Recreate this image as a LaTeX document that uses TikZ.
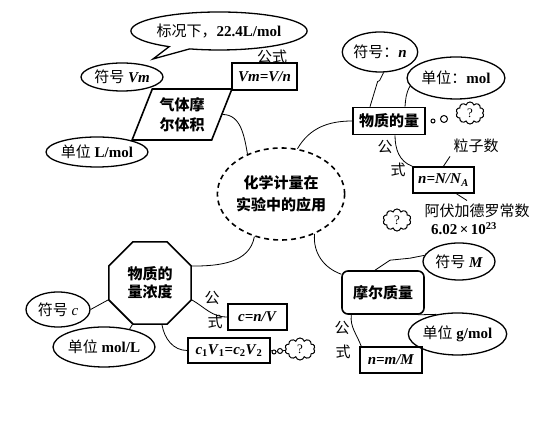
\documentclass[tikz,border=0pt]{standalone}
\usepackage{fontspec}
\setmainfont{Liberation Serif}
\newfontfamily\cjk{Noto Sans CJK SC}
\usetikzlibrary{positioning, shapes.geometric, shapes.symbols, shapes.callouts}
\newcommand{\zh}[1]{{\cjk #1}}

\begin{document}
\begin{tikzpicture}[x=1pt, y=1pt,
    every node/.style={font=\fontsize{15}{18}\selectfont},
    bubble/.style={ellipse, draw, line width=1.3pt, inner sep=0pt},
    formula/.style={rectangle, draw, line width=1.6pt, inner sep=0pt, minimum height=26pt},
    title/.style={draw, line width=1.6pt, inner sep=0pt, align=center},
    think/.style={cloud, draw, line width=1pt, cloud puffs=10, aspect=1.3, inner sep=0pt,
        minimum width=28pt, minimum height=22pt, font=\fontsize{13}{15}\selectfont},
    dot/.style={circle, draw, line width=1pt, inner sep=0pt},
    link/.style={line width=0.8pt},
]
\useasboundingbox (0,0) rectangle (536,427);

% centre
\node[ellipse, draw, dash pattern=on 5pt off 4pt, line width=1.6pt, minimum width=118pt,
    minimum height=92pt, inner sep=0pt, align=center, font=\fontsize{15}{22}\selectfont]
    (chem) at (281,233) {\zh{\bfseries 化学计量在}\\\zh{\bfseries 实验中的应用}};

% gas molar volume
\node[bubble, minimum width=82pt, minimum height=28pt] (vmsym) at (122,350) {\zh{符号} \textbf{\textit{Vm}}};
\coordinate (stptip) at (153,368);
\node[ellipse callout, draw, line width=1.3pt, inner sep=0pt, minimum width=170pt, minimum height=38pt,
    callout absolute pointer={(stptip)}] (stp) at (219,396) {\zh{标况下，}\textbf{22.4L/mol}};
\node[trapezium, trapezium left angle=66, trapezium right angle=114, trapezium stretches=true,
    draw, line width=1.6pt, minimum width=100pt, minimum height=51pt, inner sep=0pt, align=center,
    font=\fontsize{15}{20}\selectfont] (gas) at (182,312.5) {\zh{\bfseries 气体摩}\\\zh{\bfseries 尔体积}};
\node[formula, minimum width=65pt, minimum height=27pt] (vmf) at (264.5,350.5) {\textbf{\textit{Vm=V/n}}};
\node (vmlab) at (272,370) {\zh{公式}};
\node[bubble, minimum width=84pt, minimum height=30pt] (vmunit) at (97,275) {\zh{单位} \textbf{L/mol}};

% amount of substance
\node[bubble, minimum width=74pt, minimum height=40pt] (nsym) at (380,375) {\zh{符号：}\textbf{\textit{n}}};
\node[bubble, minimum width=82pt, minimum height=42pt] (nunit) at (456,349) {\zh{单位：}\textbf{mol}};
\node[title, minimum width=72pt, minimum height=27pt] (amount) at (389,306) {\zh{\bfseries 物质的量}};
\node[dot, minimum size=4pt] (dot1) at (433,306) {};
\node[dot, minimum size=7pt] (dot2) at (444,308) {};
\node[think] (q1) at (470,314) {?};
\node[formula, minimum width=61pt] (nf) at (443.5,247) {\textbf{\textit{n=N/N}\textsubscript{\textit{A}}}};
\node (nlab1) at (385,280) {\zh{公}};
\node (nlab2) at (398,257) {\zh{式}};
\node (part) at (476,281) {\zh{粒子数}};
\node (avo) at (477,216) {\zh{阿伏加德罗常数}};
\node (avoval) at (464,198) {\textbf{6.02\,×\,10\textsuperscript{23}}};
\node[think] (q2) at (397,207) {?};

% molar mass
\node[title, rounded corners=6pt, minimum width=82pt, minimum height=43pt] (molar) at (383,134.5) {\zh{\bfseries 摩尔质量}};
\node[bubble, minimum width=72pt, minimum height=37pt] (msym) at (459,165.5) {\zh{符号} \textbf{\textit{M}}};
\node[bubble, minimum width=91pt, minimum height=42pt] (munit) at (457.5,93) {\zh{单位} \textbf{g/mol}};
\node[formula, minimum width=62pt] (mf) at (391,67) {\textbf{\textit{n=m/M}}};
\node (mlab1) at (342,99) {\zh{公}};
\node (mlab2) at (343,75) {\zh{式}};

% concentration
\node[regular polygon, regular polygon sides=8, draw, line width=1.6pt, minimum size=89pt, inner sep=0pt,
    align=center, font=\fontsize{15}{18}\selectfont] (conc) at (150,144) {\zh{\bfseries 物质的}\\\zh{\bfseries 量浓度}};
\node[bubble, minimum width=64pt, minimum height=35pt] (csym) at (58,117.5) {\zh{符号} \textit{c}};
\node[bubble, minimum width=92pt, minimum height=40pt] (cunit) at (104,80) {\zh{单位} \textbf{mol/L}};
\node[formula, minimum width=59pt] (cf) at (257.5,110) {\textbf{\textit{c=n/V}}};
\node (clab1) at (212,129) {\zh{公}};
\node (clab2) at (215,105) {\zh{式}};
\node[formula, minimum width=82pt, minimum height=25pt] (dil) at (229,76.5)
    {\textbf{\textit{c}\textsubscript{1}\textit{V}\textsubscript{1}=\textit{c}\textsubscript{2}\textit{V}\textsubscript{2}}};
\node[dot, minimum size=4pt] (dot3) at (274,75) {};
\node[dot, minimum size=5pt] (dot4) at (280,76) {};
\node[think, minimum width=30pt] (q3) at (300,78) {?};

\draw[link] (gas.east) to[out=0, in=100] (chem.130);
\draw[link] (amount.west) to[out=180, in=60] (chem.70);
\draw[link] (chem.-50) to[out=-95, in=160] ([yshift=-4pt]molar.north west);
\draw[link] (conc.22.5) to[out=0, in=-100] (chem.-122);

\draw[link] (nsym.-80) -- ++(-4,-8) -- ++(-2,-1) -- ([xshift=-19pt]amount.north);
\draw[link] (nunit.190) to[out=-120, in=85] ([xshift=16pt]amount.north);
\draw[link] ([xshift=6pt]amount.south) to[out=-90, in=160] (nf.north west);
\draw[link] (part.south west) -- (nf.north);
\draw[link] ([xshift=13pt]nf.south) -- ([xshift=-10pt]avo.north);

\draw[link] ([xshift=-8pt]molar.north) -- ++(15,10) -- ++(20,2) -- (msym.170);
\draw[link] ([xshift=-7pt]molar.south east) -- (munit.137);
\draw[link] ([xshift=10pt]molar.south west) to[out=-95, in=110] ([xshift=2pt]mf.north west);

\draw[link] (csym.east) -- (conc.202.5);
\draw[link] (conc.247.5) -- (cunit.35);
\draw[link] (conc.-22.5) to[out=-30, in=180] (cf.west);
\draw[link] ([xshift=12pt]conc.south) to[out=-80, in=180] (dil.west);
\draw[link] (dil.east) -- (dot3) -- (dot4) -- (q3);
\end{tikzpicture}
\end{document}
